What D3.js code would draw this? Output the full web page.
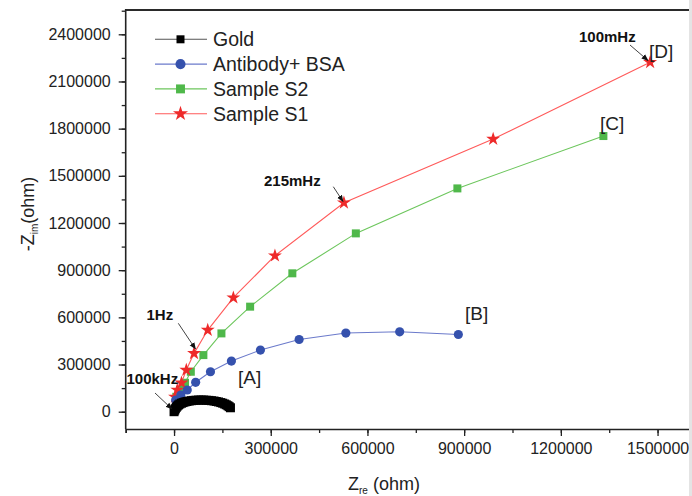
<!DOCTYPE html>
<html><head><meta charset="utf-8">
<script src="https://cdn.jsdelivr.net/npm/d3@7"></script>
<style>body{margin:0;background:#fff;} svg{display:block;font-family:Arial,"Liberation Sans",sans-serif;}</style>
</head><body>
<script>
// ---- data ----
const xTicks = [0, 300000, 600000, 900000, 1200000, 1500000];
const yTicks = [0, 300000, 600000, 900000, 1200000, 1500000, 1800000, 2100000, 2400000];
const seriesNames = ["Gold", "Antibody+ BSA", "Sample S2", "Sample S1"];

const goldX = [0, 2000, 4000, 7000, 10000, 14000, 18000, 23000, 28000, 34000, 40000, 47000, 54000, 61000, 68000, 76000, 84000, 92000, 100000, 108000, 116000, 124000, 131000, 138000, 145000, 151000, 157000, 162000, 167000, 171000, 175000];
const goldY = [0, 10000, 19000, 28000, 36000, 43000, 49000, 54000, 58000, 62000, 65000, 68000, 70000, 72000, 73000, 74000, 74000, 74000, 73000, 72000, 70000, 68000, 65000, 62000, 58000, 54000, 49000, 44000, 38000, 32000, 25000];

const abX = [5000, 21000, 41000, 67000, 113000, 178000, 268000, 388000, 533000, 700000, 882000];
const abY = [74000, 106000, 138000, 187000, 254000, 322000, 392000, 459000, 500000, 508000, 491000];

const s2X = [7000, 18600, 34000, 52000, 91000, 147000, 236000, 367000, 564000, 879000, 1332000];
const s2Y = [95000, 138000, 184000, 254000, 360000, 498000, 668000, 880000, 1134000, 1420000, 1753000];

const s1X = [3000, 10000, 23000, 38000, 62000, 104500, 184000, 313000, 527000, 990000, 1477000];
const s1Y = [94000, 138000, 184000, 265000, 371000, 519000, 725000, 992000, 1329000, 1734000, 2222000];

const freqLabels = ["100kHz", "1Hz", "215mHz", "100mHz"];
const letterLabels = ["[A]", "[B]", "[C]", "[D]"];

(function () {
const W = 692, H = 496;
const svg = d3.select("body").append("svg").attr("width", W).attr("height", H);

const plotLeft = 125.7, plotBottom = 429, plotTop = 10;
const x = d3.scaleLinear().domain([-150000, 1850000]).range([plotLeft, plotLeft + 2000000 / 300000 * 96.7]);
const y = d3.scaleLinear().domain([0, 2400000]).range([411.7, 34.3]);

// frame top
svg.append("line").attr("x1", plotLeft).attr("x2", 700).attr("y1", plotTop).attr("y2", plotTop)
  .attr("stroke", "#2a2a2a").attr("stroke-width", 2);

// x axis
const xMinor = d3.range(-150000, 1800001, 150000);
const gx = svg.append("g").attr("transform", `translate(0,${plotBottom})`);
gx.call(d3.axisBottom(x).tickValues(xMinor).tickSize(4).tickFormat(""));
gx.select(".domain").attr("stroke", "#222").attr("stroke-width", 1.6);
gx.selectAll(".tick line").attr("stroke", "#222").attr("stroke-width", 1.3);
const gx2 = svg.append("g").attr("transform", `translate(0,${plotBottom})`);
gx2.call(d3.axisBottom(x).tickValues(xTicks).tickSize(7).tickPadding(7).tickFormat(d3.format("d")));
gx2.select(".domain").remove();
gx2.selectAll(".tick line").attr("stroke", "#222").attr("stroke-width", 1.3);
gx2.selectAll("text").attr("font-size", 16).attr("fill", "#222").attr("font-family", "Arial, Liberation Sans, sans-serif");

// y axis
const yMinor = d3.range(-150000, 2550001, 150000).filter(v => y(v) <= plotBottom && y(v) >= plotTop);
const gy = svg.append("g").attr("transform", `translate(${plotLeft},0)`);
gy.call(d3.axisLeft(y).tickValues(yMinor).tickSize(4).tickFormat(""));
gy.select(".domain").remove();
gy.selectAll(".tick line").attr("stroke", "#222").attr("stroke-width", 1.3);
svg.append("line").attr("x1", plotLeft).attr("x2", plotLeft).attr("y1", plotTop - 1).attr("y2", plotBottom)
  .attr("stroke", "#222").attr("stroke-width", 1.6);
const gy2 = svg.append("g").attr("transform", `translate(${plotLeft},0)`);
gy2.call(d3.axisLeft(y).tickValues(yTicks).tickSize(7).tickPadding(8).tickFormat(d3.format("d")));
gy2.select(".domain").remove();
gy2.selectAll(".tick line").attr("stroke", "#222").attr("stroke-width", 1.3);
gy2.selectAll("text").attr("font-size", 16).attr("fill", "#222").attr("font-family", "Arial, Liberation Sans, sans-serif");

// axis titles
const xt = svg.append("text").attr("x", 348).attr("y", 490).attr("font-size", 18).attr("fill", "#222");
xt.append("tspan").text("Z");
xt.append("tspan").attr("font-size", 10).attr("dy", 4).text("re");
xt.append("tspan").attr("dy", -4).text(" (ohm)");

const yt = svg.append("text").attr("transform", "translate(34,214) rotate(-90)")
  .attr("text-anchor", "middle").attr("font-size", 18).attr("fill", "#222");
yt.append("tspan").text("-Z");
yt.append("tspan").attr("font-size", 10).attr("dy", 4).text("im");
yt.append("tspan").attr("dy", -4).text("(ohm)");

// series
const series = [
  {name: seriesNames[2], xs: s2X, ys: s2Y, line: "#6cc65c", fill: "#4fb84a", sym: d3.symbolSquare, size: 64},
  {name: seriesNames[3], xs: s1X, ys: s1Y, line: "#ff5a5a", fill: "#ee2a2a", sym: d3.symbolStar, size: 60},
  {name: seriesNames[1], xs: abX, ys: abY, line: "#6b7acb", fill: "#3551ad", sym: d3.symbolCircle, size: 66},
  {name: seriesNames[0], xs: goldX, ys: goldY, line: "#555", fill: "#000", sym: d3.symbolSquare, size: 81},
];
const lineGen = d3.line().x(d => x(d[0])).y(d => y(d[1]));
series.forEach(s => {
  const pts = s.xs.map((v, i) => [v, s.ys[i]]);
  svg.append("path").attr("d", lineGen(pts)).attr("fill", "none").attr("stroke", s.line).attr("stroke-width", 1.1);
  svg.selectAll(null).data(pts).enter().append("path")
    .attr("transform", d => `translate(${x(d[0])},${y(d[1])})`)
    .attr("d", d3.symbol().type(s.sym).size(s.size)).attr("fill", s.fill);
});

// legend
const legendOrder = [series[3], series[2], series[0], series[1]];
legendOrder.forEach((s, i) => {
  const cy = 39.3 + i * 24.8;
  svg.append("line").attr("x1", 155).attr("x2", 207).attr("y1", cy).attr("y2", cy).attr("stroke", s.line).attr("stroke-width", 1.1);
  svg.append("path").attr("transform", `translate(180.5,${cy})`)
    .attr("d", d3.symbol().type(s.sym).size(s.name === "Gold" ? 64 : (s.sym === d3.symbolStar ? 70 : 80))).attr("fill", s.fill);
  svg.append("text").attr("x", 213).attr("y", cy + 7).attr("font-size", 19.5).attr("fill", "#222").text(s.name);
});

// annotation arrows
const defs = svg.append("defs");
defs.append("marker").attr("id", "ah").attr("viewBox", "0 0 10 10").attr("refX", 9).attr("refY", 5)
  .attr("markerWidth", 7).attr("markerHeight", 7).attr("orient", "auto")
  .append("path").attr("d", "M0,1 L10,5 L0,9 Z").attr("fill", "#111");
const arrows = [
  [155, 393, 172, 409],
  [178.3, 323.3, 195.5, 349],
  [333.3, 186.7, 343, 201.5],
  [630, 45, 648, 60.5],
];
arrows.forEach(a => svg.append("line").attr("x1", a[0]).attr("y1", a[1]).attr("x2", a[2]).attr("y2", a[3])
  .attr("stroke", "#444").attr("stroke-width", 1).attr("marker-end", "url(#ah)"));

const freqPos = [[126.5, 384], [146.5, 320], [264, 185.5], [579, 41.5]];
freqLabels.forEach((t, i) => svg.append("text").attr("x", freqPos[i][0]).attr("y", freqPos[i][1])
  .attr("font-size", 15).attr("font-weight", "bold").attr("fill", "#111").text(t));

const letterPos = [[238, 383.5], [465, 320], [600, 130], [649, 58]];
letterLabels.forEach((t, i) => svg.append("text").attr("x", letterPos[i][0]).attr("y", letterPos[i][1])
  .attr("font-size", 19).attr("fill", "#222").text(t));

svg.append("rect").attr("x", 689).attr("y", 0).attr("width", 3).attr("height", H).attr("fill", "#e4e4e4");
})();
</script>
</body></html>
